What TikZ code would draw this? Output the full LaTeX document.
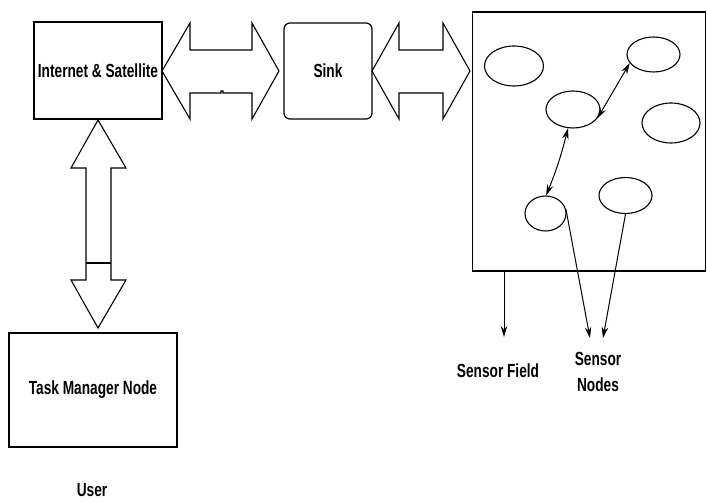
\documentclass[tikz,border=0pt]{standalone}
\usepackage{fontspec}
\setmainfont{Liberation Sans}[FakeStretch=0.72]
\usetikzlibrary{shapes.geometric,arrows.meta}
\tikzset{
  box/.style={draw, line width=1.2pt, inner sep=0pt, font=\fontsize{19}{22}\selectfont\bfseries},
  sensor/.style={draw, ellipse, line width=1.1pt, inner sep=0pt},
  blockarrow/.style={draw, line width=1.1pt, fill=white, line join=miter},
  link/.style={line width=1pt, {Stealth[length=11pt,width=6.5pt]}-{Stealth[length=11pt,width=6.5pt]}},
  ptr/.style={line width=1pt, -{Stealth[length=11pt,width=6.5pt]}},
  lbl/.style={font=\fontsize{19}{26}\selectfont\bfseries, align=center, inner sep=0pt}
}
\begin{document}
\begin{tikzpicture}[x=1pt,y=-1pt]
\useasboundingbox (0,0) rectangle (707,502);
% boxes
\node[box, minimum width=128pt, minimum height=97pt] (inet) at (98,70.5) {Internet \& Satellite};
\node[box, rounded corners=6pt, minimum width=88pt, minimum height=96pt] (sink) at (328,71) {Sink};
\node[box, minimum width=168pt, minimum height=114pt] (task) at (93,390) {Task Manager Node};
\node[box, minimum width=233pt, minimum height=259pt] (field) at (589,141.5) {};
% block arrows
\draw[blockarrow] (162,71) -- (190,23) -- (190,50) -- (252,50) -- (252,23) -- (279,71) -- (252,119) -- (252,93) -- (223,93) -- (223,91) -- (221,91) -- (221,93) -- (190,93) -- (190,119) -- cycle;
\draw[blockarrow] (372,71) -- (399,23) -- (399,50) -- (443,50) -- (443,23) -- (470,71) -- (443,119) -- (443,93) -- (399,93) -- (399,119) -- cycle;
\draw[blockarrow] (98,120) -- (126,168) -- (111,168) -- (111,280) -- (126,280) -- (98,328) -- (71,280) -- (86,280) -- (86,168) -- (71,168) -- cycle;
\draw[line width=1.1pt] (86,263) -- (111,263);
% sensor nodes
\node[sensor, minimum width=59pt, minimum height=40pt] (e1) at (514,66) {};
\node[sensor, minimum width=53pt, minimum height=35pt] (e2) at (653.5,54.5) {};
\node[sensor, minimum width=54pt, minimum height=37pt] (e3) at (573,109.5) {};
\node[sensor, minimum width=58pt, minimum height=40pt] (e4) at (671,123) {};
\node[sensor, minimum width=53pt, minimum height=36pt] (e5) at (625.5,195.5) {};
\node[sensor, minimum width=41pt, minimum height=35pt] (e6) at (545.5,213.5) {};
\draw[link] (e3.-20) -- (e2.-160);
\draw[link] (e3.-105) to[bend left=4] (e6.88);
% labels
\node[lbl] (sf) at (498,371) {Sensor Field};
\node[lbl] (sn) at (598,372) {Sensor\\Nodes};
\node[lbl] (user) at (92,490) {User};
\coordinate (sft) at (504,337);
\coordinate (snt1) at (590,338);
\coordinate (snt2) at (603,338);
\draw[ptr] (field.south -| sft) -- (sft);
\draw[ptr] (e6.12) -- (snt1);
\draw[ptr] (e5.south) -- (snt2);
\end{tikzpicture}
\end{document}
